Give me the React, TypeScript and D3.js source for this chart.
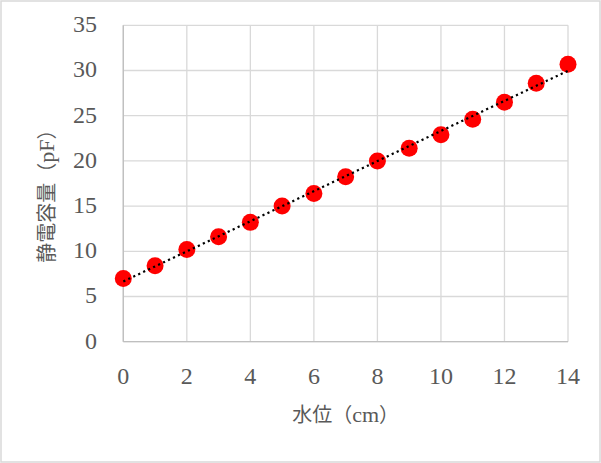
import React from "react";
import * as d3 from "d3";

const waterLevel = [0, 1, 2, 3, 4, 5, 6, 7, 8, 9, 10, 11, 12, 13, 14];
const capacitance = [7.0, 8.4, 10.2, 11.6, 13.2, 15.0, 16.4, 18.25, 20.0, 21.4, 22.9, 24.6, 26.5, 28.6, 30.7];
const xTicks = [0, 2, 4, 6, 8, 10, 12, 14];
const yTicks = [0, 5, 10, 15, 20, 25, 30, 35];
const xTitleJp = "水位";
const xTitleUnit = "cm";
const yTitleJp = "静電容量";
const yTitleUnit = "pF";

const W = 601;
const H = 463;
const left = 123.3;
const right = 568;
const top = 25.3;
const bottom = 341.7;

export default function App() {
  const x = d3.scaleLinear().domain([0, 14]).range([left, right]);
  const y = d3.scaleLinear().domain([0, 35]).range([bottom, top]);

  // linear trendline (least squares)
  const n = waterLevel.length;
  const mx = d3.mean(waterLevel)!;
  const my = d3.mean(capacitance)!;
  let sxy = 0, sxx = 0;
  for (let i = 0; i < n; i++) {
    sxy += (waterLevel[i] - mx) * (capacitance[i] - my);
    sxx += (waterLevel[i] - mx) ** 2;
  }
  const slope = sxy / sxx;
  const intercept = my - slope * mx;
  const trend = d3.line<number>().x((d) => x(d)).y((d) => y(intercept + slope * d));

  const numFont = "'Liberation Serif', 'DejaVu Serif', serif";
  const jpFont = "'Noto Sans CJK JP', sans-serif";
  const textColor = "#595959";

  return (
    <svg width={W} height={H} style={{ position: "absolute", left: 0, top: 0 }}>
      <rect x={0} y={0} width={W} height={H} fill="#fff" />
      <rect x={1} y={1} width={W - 2} height={H - 2} fill="none" stroke="#d9d9d9" strokeWidth={1.5} />
      {/* gridlines */}
      {yTicks.map((t) => (
        <line key={"gy" + t} x1={left} x2={right} y1={y(t)} y2={y(t)} stroke="#d9d9d9" strokeWidth={1.3} />
      ))}
      {xTicks.map((t) => (
        <line key={"gx" + t} x1={x(t)} x2={x(t)} y1={top} y2={bottom} stroke="#d9d9d9" strokeWidth={1.3} />
      ))}
      {/* axes */}
      <line x1={left} x2={right} y1={bottom} y2={bottom} stroke="#bfbfbf" strokeWidth={1.3} />
      <line x1={left} x2={left} y1={top} y2={bottom} stroke="#bfbfbf" strokeWidth={1.3} />
      {/* tick labels */}
      {yTicks.map((t) => (
        <text key={"ly" + t} x={97} y={y(t) - 1} dy="0.33em" textAnchor="end" fontFamily={numFont} fontSize={24} fill={textColor}>
          {t}
        </text>
      ))}
      {xTicks.map((t) => (
        <text key={"lx" + t} x={x(t)} y={376} dy="0.33em" textAnchor="middle" fontFamily={numFont} fontSize={24} fill={textColor}>
          {t}
        </text>
      ))}
      {/* titles */}
      <text x={(left + right) / 2} y={415} dy="0.35em" textAnchor="middle" fontFamily={jpFont} fontSize={20} fill={textColor}>
        {xTitleJp}
        <tspan>（</tspan>
        <tspan fontFamily={numFont} fontSize={22}>{xTitleUnit}</tspan>
        <tspan>）</tspan>
      </text>
      <text
        transform={`translate(47, 191) rotate(-90)`}
        dy="0.35em"
        textAnchor="middle"
        fontFamily={jpFont}
        fontSize={20}
        fill={textColor}
      >
        {yTitleJp}
        <tspan>（</tspan>
        <tspan fontFamily={numFont} fontSize={22}>{yTitleUnit}</tspan>
        <tspan>）</tspan>
      </text>
      {/* points */}
      {waterLevel.map((d, i) => (
        <circle key={"p" + i} cx={x(d)} cy={y(capacitance[i])} r={8.5} fill="#ff0000" />
      ))}
      {/* trendline */}
      <path d={trend([0, 14]) || ""} fill="none" stroke="#000" strokeWidth={2.2} strokeDasharray="2.2 3.3" />
    </svg>
  );
}
